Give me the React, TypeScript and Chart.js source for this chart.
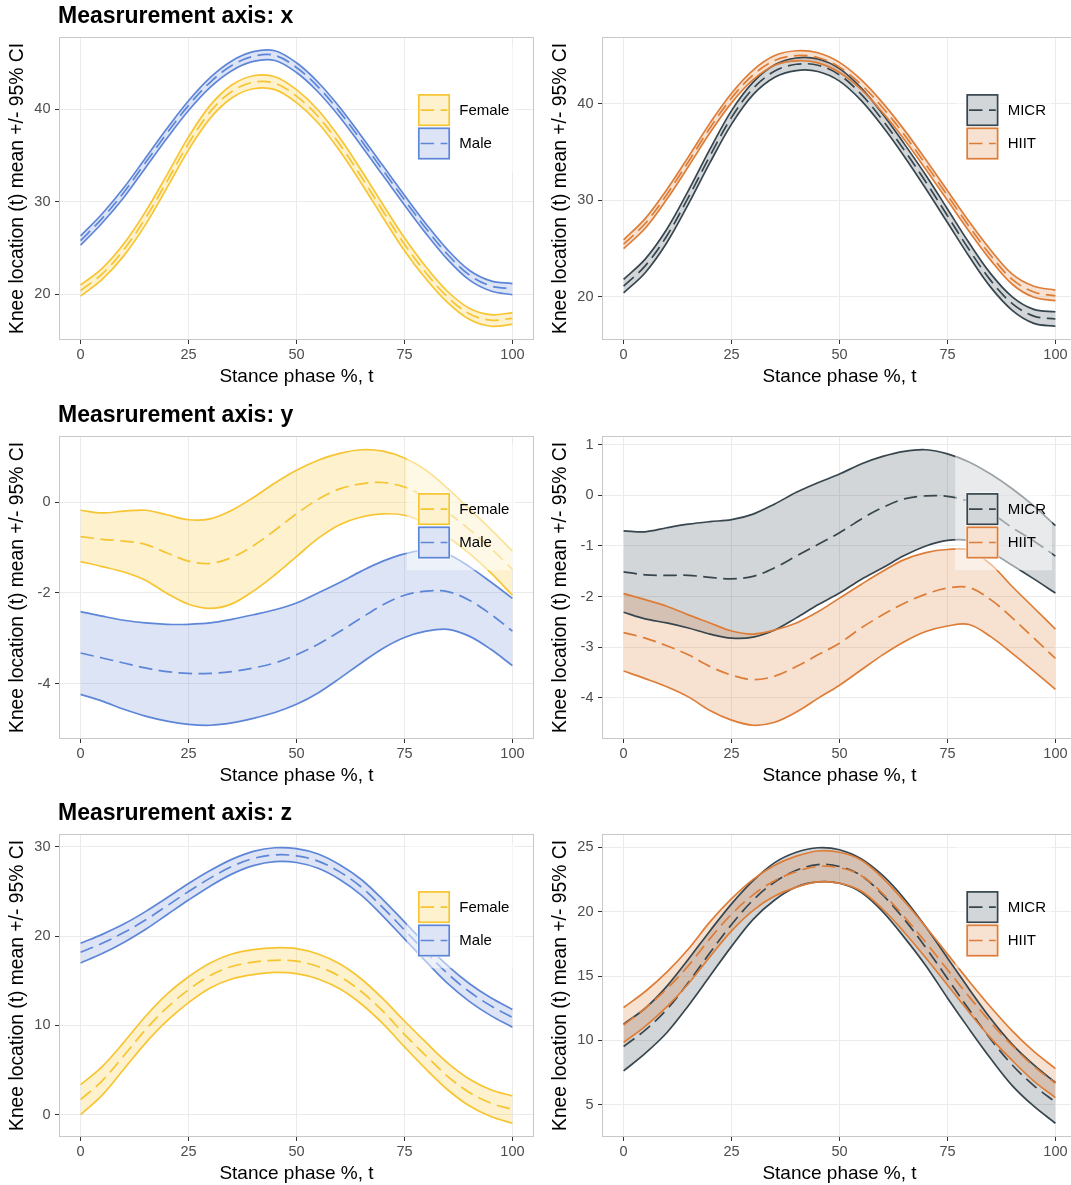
import React, { useEffect, useRef } from "react";
import { Chart, registerables } from "chart.js";

Chart.register(...registerables);

const FONT = '"Liberation Sans", Arial, Helvetica, sans-serif';

// ---------------- data ----------------
const stance = [0, 5, 10, 15, 20, 25, 30, 35, 40, 45, 50, 55, 60, 65, 70, 75, 80, 85, 90, 95, 100];
const xTicks = [0, 25, 50, 75, 100];

// Measurement axis x — sex
const femaleXLower = [19.8, 21.6, 24.15, 27.5, 31.5, 35.6, 39.0, 41.2, 42.2, 42.1, 40.7, 38.5, 35.5, 32.0, 28.3, 24.7, 21.65, 19.1, 17.3, 16.55, 16.75];
const femaleXMean = [20.4, 22.2, 24.8, 28.2, 32.2, 36.3, 39.7, 41.9, 42.9, 42.8, 41.4, 39.2, 36.2, 32.7, 29.0, 25.4, 22.3, 19.7, 17.9, 17.2, 17.4];
const femaleXUpper = [21.0, 22.8, 25.45, 28.9, 32.9, 37.0, 40.4, 42.6, 43.6, 43.5, 42.1, 39.9, 36.9, 33.4, 29.7, 26.1, 22.95, 20.3, 18.5, 17.8, 18.0];
const maleXLower = [25.3, 27.7, 30.45, 33.65, 36.85, 39.85, 42.35, 44.15, 45.15, 45.25, 43.95, 41.85, 39.15, 36.05, 32.85, 29.65, 26.55, 23.75, 21.55, 20.35, 19.95];
const maleXMean = [25.8, 28.2, 31.0, 34.2, 37.4, 40.4, 42.9, 44.7, 45.7, 45.8, 44.5, 42.4, 39.7, 36.6, 33.4, 30.2, 27.1, 24.3, 22.1, 20.9, 20.6];
const maleXUpper = [26.3, 28.7, 31.5, 34.7, 37.9, 40.9, 43.4, 45.2, 46.2, 46.3, 45.0, 42.9, 40.2, 37.1, 33.9, 30.7, 27.6, 24.8, 22.6, 21.45, 21.15];

// Measurement axis x — training
const micrXLower = [20.4, 22.5, 25.6, 29.6, 33.9, 37.9, 40.95, 42.75, 43.45, 43.35, 42.35, 40.35, 37.65, 34.55, 31.2, 27.7, 24.2, 21.0, 18.6, 17.25, 16.95];
const micrXMean = [21.1, 23.2, 26.3, 30.3, 34.6, 38.6, 41.6, 43.4, 44.1, 44.0, 43.0, 41.0, 38.3, 35.2, 31.9, 28.4, 24.9, 21.7, 19.3, 18.0, 17.7];
const micrXUpper = [21.8, 23.9, 27.0, 31.0, 35.3, 39.3, 42.25, 44.05, 44.75, 44.65, 43.65, 41.65, 38.95, 35.85, 32.6, 29.1, 25.6, 22.4, 20.0, 18.7, 18.45];
const hiitXLower = [25.0, 27.1, 30.1, 33.5, 37.0, 40.1, 42.5, 44.0, 44.45, 44.25, 43.25, 41.5, 39.1, 36.3, 33.2, 30.0, 26.8, 23.8, 21.3, 19.95, 19.6];
const hiitXMean = [25.45, 27.6, 30.6, 34.0, 37.5, 40.6, 43.0, 44.5, 45.0, 44.8, 43.8, 42.0, 39.6, 36.8, 33.7, 30.5, 27.3, 24.3, 21.8, 20.5, 20.1];
const hiitXUpper = [25.9, 28.1, 31.1, 34.5, 38.0, 41.1, 43.5, 45.0, 45.5, 45.3, 44.3, 42.5, 40.1, 37.3, 34.2, 31.0, 27.8, 24.85, 22.35, 21.1, 20.7];

// Measurement axis y — sex
const femaleYLower = [-1.31, -1.42, -1.54, -1.72, -2.01, -2.25, -2.34, -2.24, -1.96, -1.6, -1.2, -0.8, -0.5, -0.33, -0.26, -0.29, -0.47, -0.77, -1.13, -1.56, -2.05];
const femaleYMean = [-0.76, -0.82, -0.86, -0.93, -1.12, -1.3, -1.35, -1.22, -0.96, -0.62, -0.26, 0.06, 0.29, 0.4, 0.43, 0.33, 0.1, -0.23, -0.6, -1.02, -1.48];
const femaleYUpper = [-0.18, -0.24, -0.2, -0.18, -0.28, -0.39, -0.37, -0.18, 0.1, 0.42, 0.7, 0.92, 1.07, 1.15, 1.12, 0.97, 0.7, 0.3, -0.15, -0.6, -1.08];
const maleYLower = [-4.23, -4.38, -4.56, -4.71, -4.82, -4.89, -4.91, -4.86, -4.76, -4.63, -4.45, -4.2, -3.88, -3.54, -3.22, -2.98, -2.84, -2.8, -2.95, -3.24, -3.6];
const maleYMean = [-3.32, -3.43, -3.54, -3.65, -3.73, -3.77, -3.77, -3.73, -3.65, -3.54, -3.36, -3.13, -2.85, -2.55, -2.26, -2.05, -1.96, -1.97, -2.16, -2.47, -2.84];
const maleYUpper = [-2.41, -2.51, -2.6, -2.66, -2.69, -2.69, -2.66, -2.58, -2.48, -2.37, -2.22, -2.0, -1.77, -1.52, -1.3, -1.14, -1.06, -1.15, -1.42, -1.76, -2.12];

// Measurement axis y — training
const micrYLower = [-2.31, -2.44, -2.52, -2.62, -2.74, -2.82, -2.8, -2.66, -2.42, -2.16, -1.93, -1.66, -1.43, -1.19, -1.0, -0.89, -0.9, -1.12, -1.38, -1.65, -1.93];
const micrYMean = [-1.51, -1.57, -1.58, -1.58, -1.62, -1.65, -1.6, -1.43, -1.2, -0.97, -0.74, -0.47, -0.24, -0.07, -0.01, -0.02, -0.12, -0.34, -0.64, -0.9, -1.2];
const micrYUpper = [-0.7, -0.72, -0.64, -0.57, -0.52, -0.48, -0.37, -0.17, 0.06, 0.25, 0.42, 0.62, 0.77, 0.87, 0.9, 0.82, 0.66, 0.42, 0.13, -0.21, -0.6];
const hiitYLower = [-3.47, -3.62, -3.78, -3.98, -4.25, -4.44, -4.54, -4.48, -4.28, -4.01, -3.75, -3.45, -3.15, -2.89, -2.69, -2.58, -2.55, -2.79, -3.12, -3.47, -3.83];
const hiitYMean = [-2.71, -2.82, -2.97, -3.15, -3.38, -3.55, -3.64, -3.57, -3.38, -3.15, -2.92, -2.62, -2.36, -2.13, -1.95, -1.83, -1.82, -2.06, -2.42, -2.82, -3.22];
const hiitYUpper = [-1.94, -2.06, -2.19, -2.36, -2.52, -2.68, -2.74, -2.66, -2.52, -2.3, -2.03, -1.76, -1.5, -1.27, -1.13, -1.07, -1.08, -1.36, -1.8, -2.22, -2.64];

// Measurement axis z — sex
const femaleZLower = [0.0, 2.2, 5.1, 8.0, 10.5, 12.55, 14.2, 15.2, 15.7, 15.95, 15.8, 15.2, 14.1, 12.4, 10.2, 7.6, 5.1, 2.8, 1.0, -0.2, -0.95];
const femaleZMean = [1.7, 3.8, 6.6, 9.5, 12.0, 14.0, 15.6, 16.6, 17.1, 17.3, 17.2, 16.6, 15.5, 13.8, 11.6, 9.0, 6.6, 4.3, 2.5, 1.3, 0.6];
const femaleZUpper = [3.37, 5.4, 8.1, 11.0, 13.5, 15.45, 17.0, 18.0, 18.5, 18.7, 18.6, 18.0, 16.9, 15.2, 13.0, 10.5, 8.1, 5.8, 4.0, 2.8, 2.1];
const maleZLower = [17.0, 18.05, 19.3, 20.75, 22.4, 24.05, 25.6, 26.95, 27.9, 28.35, 28.25, 27.6, 26.35, 24.6, 22.25, 19.7, 17.15, 14.7, 12.7, 11.1, 9.8];
const maleZMean = [18.2, 19.2, 20.4, 21.8, 23.4, 25.0, 26.5, 27.8, 28.7, 29.1, 29.0, 28.4, 27.2, 25.5, 23.2, 20.7, 18.2, 15.8, 13.8, 12.2, 10.9];
const maleZUpper = [19.2, 20.2, 21.35, 22.75, 24.3, 25.9, 27.35, 28.6, 29.5, 29.9, 29.8, 29.2, 28.0, 26.35, 24.1, 21.6, 19.1, 16.7, 14.7, 13.1, 11.8];

// Measurement axis z — training
const micrZLower = [7.64, 9.0, 10.6, 12.7, 15.0, 17.3, 19.4, 20.9, 21.9, 22.3, 22.2, 21.5, 20.0, 18.0, 15.8, 13.3, 10.9, 8.6, 6.5, 4.9, 3.58];
const micrZMean = [9.53, 10.8, 12.4, 14.5, 16.8, 19.0, 20.9, 22.3, 23.2, 23.65, 23.5, 22.8, 21.3, 19.4, 17.2, 14.8, 12.4, 10.1, 8.1, 6.5, 5.23];
const micrZUpper = [11.27, 12.5, 14.2, 16.3, 18.5, 20.6, 22.4, 23.8, 24.6, 24.95, 24.8, 24.1, 22.8, 21.0, 18.8, 16.4, 14.0, 11.7, 9.7, 8.1, 6.74];
const hiitZLower = [9.84, 11.1, 12.6, 14.4, 16.5, 18.5, 20.1, 21.2, 21.9, 22.3, 22.2, 21.6, 20.2, 18.4, 16.4, 14.3, 12.2, 10.2, 8.45, 6.85, 5.57];
const hiitZMean = [11.2, 12.5, 14.0, 15.8, 17.9, 19.8, 21.3, 22.4, 23.1, 23.5, 23.4, 22.8, 21.4, 19.6, 17.6, 15.5, 13.4, 11.4, 9.6, 8.0, 6.68];
const hiitZUpper = [12.56, 13.8, 15.3, 17.1, 19.2, 21.0, 22.5, 23.6, 24.3, 24.7, 24.6, 24.0, 22.6, 20.8, 18.8, 16.7, 14.6, 12.6, 10.75, 9.15, 7.82];

const yTicksX = [20, 30, 40];
const yTicksSexY = [-4, -2, 0];
const yTicksTrainY = [-4, -3, -2, -1, 0, 1];
const yTicksSexZ = [0, 10, 20, 30];
const yTicksTrainZ = [5, 10, 15, 20, 25];

const titles = ["Measrurement axis: x", "Measrurement axis: y", "Measrurement axis: z"];
const xTitle = "Stance phase %, t";
const yTitle = "Knee location (t) mean +/- 95% CI";

// ---------------- styles ----------------
const palette: Record<string, { line: string; fill: string }> = {
  Female: { line: "#F7C531", fill: "rgba(247,197,49,0.24)" },
  Male: { line: "#5E86D8", fill: "rgba(94,134,216,0.22)" },
  MICR: { line: "#37464E", fill: "rgba(55,70,78,0.22)" },
  HIIT: { line: "#DD7D37", fill: "rgba(221,125,55,0.23)" },
};

const ROW_TOPS = [0, 399, 797];
const COL_LEFTS = [0, 543];
const CANVAS_W = 540;
const CANVAS_H = 388;
const KEY_OFFSET = [358.3, 363.7];

type Group = { name: string; lower: number[]; mean: number[]; upper: number[] };
type Panel = { row: number; col: number; title: string | null; yTicks: number[]; groups: Group[] };

const panels: Panel[] = [
  {
    row: 0, col: 0, title: titles[0], yTicks: yTicksX,
    groups: [
      { name: "Female", lower: femaleXLower, mean: femaleXMean, upper: femaleXUpper },
      { name: "Male", lower: maleXLower, mean: maleXMean, upper: maleXUpper },
    ],
  },
  {
    row: 0, col: 1, title: null, yTicks: yTicksX,
    groups: [
      { name: "MICR", lower: micrXLower, mean: micrXMean, upper: micrXUpper },
      { name: "HIIT", lower: hiitXLower, mean: hiitXMean, upper: hiitXUpper },
    ],
  },
  {
    row: 1, col: 0, title: titles[1], yTicks: yTicksSexY,
    groups: [
      { name: "Female", lower: femaleYLower, mean: femaleYMean, upper: femaleYUpper },
      { name: "Male", lower: maleYLower, mean: maleYMean, upper: maleYUpper },
    ],
  },
  {
    row: 1, col: 1, title: null, yTicks: yTicksTrainY,
    groups: [
      { name: "MICR", lower: micrYLower, mean: micrYMean, upper: micrYUpper },
      { name: "HIIT", lower: hiitYLower, mean: hiitYMean, upper: hiitYUpper },
    ],
  },
  {
    row: 2, col: 0, title: titles[2], yTicks: yTicksSexZ,
    groups: [
      { name: "Female", lower: femaleZLower, mean: femaleZMean, upper: femaleZUpper },
      { name: "Male", lower: maleZLower, mean: maleZMean, upper: maleZUpper },
    ],
  },
  {
    row: 2, col: 1, title: null, yTicks: yTicksTrainZ,
    groups: [
      { name: "MICR", lower: micrZLower, mean: micrZMean, upper: micrZUpper },
      { name: "HIIT", lower: hiitZLower, mean: hiitZMean, upper: hiitZUpper },
    ],
  },
];

const toPoints = (vals: number[]) => stance.map((t, i) => ({ x: t, y: vals[i] }));

function makeDecor(panel: Panel) {
  return {
    id: "panelDecor",
    afterDatasetsDraw(chart: any) {
      const { ctx, chartArea: a } = chart;
      ctx.save();
      // panel border
      ctx.strokeStyle = "#C8C8C8";
      ctx.lineWidth = 1;
      ctx.setLineDash([]);
      ctx.strokeRect(a.left + 0.5, a.top + 0.5, a.right - a.left - 1, a.bottom - a.top - 1);

      // legend inside the panel
      const pitch = 33.4;
      const keyX = a.left + KEY_OFFSET[panel.col];
      const keyY = a.top + 56.4;
      const textX = keyX + 42;
      ctx.font = `15px ${FONT}`;
      const tw = Math.max(...panel.groups.map((g) => ctx.measureText(g.name).width));
      ctx.fillStyle = "rgba(255,255,255,0.5)";
      const bgL = keyX - 10.5;
      ctx.fillRect(bgL, keyY - 47, textX + tw + 6 - bgL, 47 + pitch * panel.groups.length + 11);
      panel.groups.forEach((g, i) => {
        const c = palette[g.name];
        const y = keyY + i * pitch;
        ctx.fillStyle = "#FFFFFF";
        ctx.fillRect(keyX, y, pitch, pitch);
        ctx.fillStyle = c.fill;
        ctx.fillRect(keyX + 1, y + 1, pitch - 2, pitch - 2);
        ctx.strokeStyle = c.line;
        ctx.lineWidth = 1.7;
        ctx.strokeRect(keyX + 1.5, y + 1.5, pitch - 3, pitch - 3);
        ctx.setLineDash([13.5, 6.5]);
        ctx.beginPath();
        ctx.moveTo(keyX + 3.3, y + pitch / 2);
        ctx.lineTo(keyX + pitch - 3.3, y + pitch / 2);
        ctx.stroke();
        ctx.setLineDash([]);
        ctx.fillStyle = "#000000";
        ctx.textAlign = "left";
        ctx.textBaseline = "middle";
        ctx.fillText(g.name, textX, y + pitch / 2 + 0.5);
      });
      ctx.restore();
    },
    afterDraw(chart: any) {
      if (!panel.title) return;
      const { ctx, chartArea: a } = chart;
      ctx.save();
      ctx.font = `bold 23px ${FONT}`;
      ctx.fillStyle = "#000000";
      ctx.textAlign = "left";
      ctx.textBaseline = "alphabetic";
      ctx.fillText(panel.title, a.left - 1, 23.3);
      ctx.restore();
    },
  };
}

function makeConfig(panel: Panel): any {
  const datasets: any[] = [];
  panel.groups.forEach((g) => {
    const c = palette[g.name];
    const common = {
      borderColor: c.line,
      borderWidth: 1.7,
      pointRadius: 0,
      pointHoverRadius: 0,
      tension: 0.35,
    };
    datasets.push({ ...common, label: `${g.name} lower`, data: toPoints(g.lower), fill: false });
    datasets.push({ ...common, label: `${g.name} upper`, data: toPoints(g.upper), fill: "-1", backgroundColor: c.fill });
    datasets.push({ ...common, label: g.name, data: toPoints(g.mean), fill: false, borderDash: [13.5, 6.5] });
  });
  datasets.forEach((d, i) => (d.order = -i));

  const all = panel.groups.flatMap((g) => [...g.lower, ...g.upper]);
  const lo = Math.min(...all);
  const hi = Math.max(...all);
  const pad = (hi - lo) * 0.05;

  const grid = {
    color: "#EBEBEB",
    lineWidth: 1,
    tickColor: "#333333",
    tickLength: 4,
    tickWidth: 1,
    drawTicks: true,
  };
  const tickFont = { family: FONT, size: 14.5 };

  return {
    type: "line",
    data: { datasets },
    options: {
      animation: false,
      responsive: false,
      devicePixelRatio: 1,
      events: [],
      layout: { padding: { top: 37, right: 6, bottom: 0, left: 0 } },
      plugins: {
        legend: { display: false },
        tooltip: { enabled: false },
        title: { display: false },
        filler: { drawTime: "beforeDatasetsDraw" },
      },
      scales: {
        x: {
          type: "linear",
          min: -5,
          max: 105,
          afterBuildTicks: (s: any) => {
            s.ticks = xTicks.map((v) => ({ value: v }));
          },
          afterFit: (s: any) => {
            s.height = 48;
          },
          grid,
          border: { display: false },
          ticks: {
            color: "#4D4D4D",
            font: tickFont,
            padding: 2,
            maxRotation: 0,
            autoSkip: false,
            callback: (v: any) => String(v),
          },
          title: {
            display: true,
            text: xTitle,
            color: "#000000",
            font: { family: FONT, size: 19, lineHeight: 1.2 },
            padding: { top: 0, bottom: 0 },
          },
        },
        y: {
          type: "linear",
          min: lo - pad,
          max: hi + pad,
          afterBuildTicks: (s: any) => {
            s.ticks = panel.yTicks.map((v) => ({ value: v }));
          },
          afterFit: (s: any) => {
            s.width = 59;
          },
          grid,
          border: { display: false },
          ticks: {
            color: "#4D4D4D",
            font: tickFont,
            padding: 4.5,
            callback: (v: any) => String(v),
          },
          title: {
            display: true,
            text: yTitle,
            color: "#000000",
            font: { family: FONT, size: 19.3, lineHeight: 1.2 },
            padding: { top: 6.5, bottom: 0 },
          },
        },
      },
    },
    plugins: [makeDecor(panel)],
  };
}

function PanelChart({ panel }: { panel: Panel }) {
  const ref = useRef<HTMLCanvasElement | null>(null);
  useEffect(() => {
    if (!ref.current) return;
    const chart = new Chart(ref.current, makeConfig(panel));
    return () => chart.destroy();
  }, [panel]);
  return (
    <canvas
      ref={ref}
      width={CANVAS_W}
      height={CANVAS_H}
      style={{
        position: "absolute",
        left: COL_LEFTS[panel.col],
        top: ROW_TOPS[panel.row],
        width: CANVAS_W,
        height: CANVAS_H,
      }}
    />
  );
}

export default function App() {
  return (
    <div
      style={{
        position: "absolute",
        left: 0,
        top: 0,
        width: 1071,
        height: 1185,
        overflow: "hidden",
        background: "#FFFFFF",
      }}
    >
      {panels.map((p, i) => (
        <PanelChart key={i} panel={p} />
      ))}
    </div>
  );
}
